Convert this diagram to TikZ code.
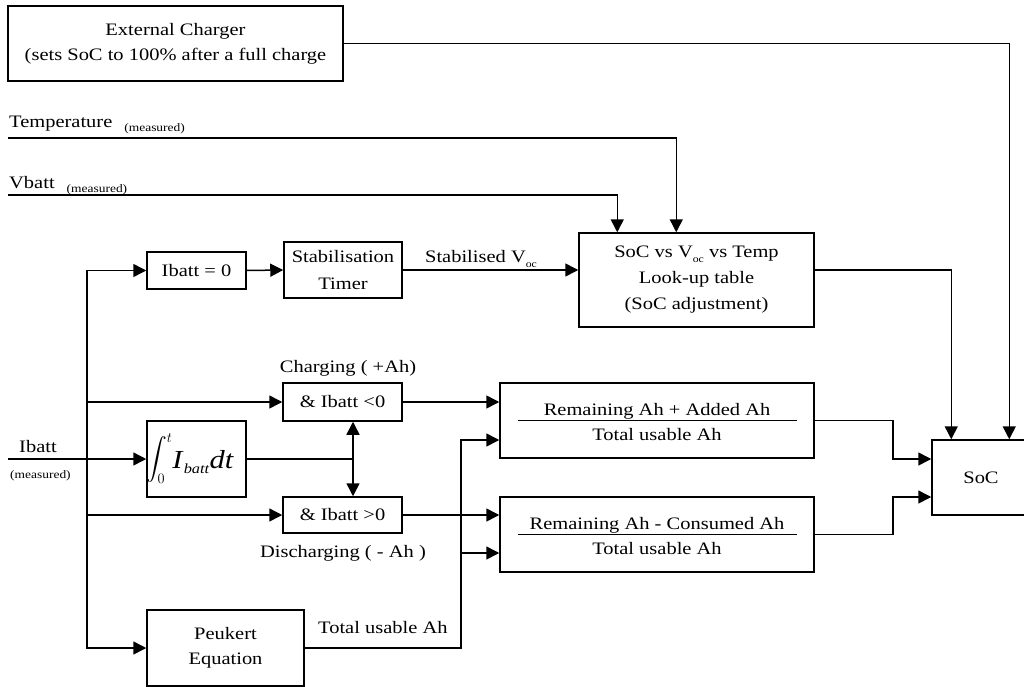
\documentclass[tikz,border=0pt]{standalone}
\usepackage{exscale}
\usepackage{fontspec}
\setmainfont[FakeStretch=1.17]{Liberation Serif}
\usetikzlibrary{arrows.meta,calc}
% small lowered annotation and the open-circuit subscript
\newcommand\msrd[1]{\raisebox{-4pt}{\fontsize{11.5}{13}\selectfont #1}}
\newcommand\vocsub{\raisebox{-5pt}{\fontsize{10}{10}\selectfont oc}}
\tikzset{
  blk/.style={draw, line width=1.5pt, inner sep=0pt, align=center},
  lnk/.style={line width=1.5pt},
  arr/.style={lnk, -{Triangle[length=13pt,width=13pt]}},
  arrboth/.style={lnk, {Triangle[length=13pt,width=13pt]}-{Triangle[length=13pt,width=13pt]}},
  lbl/.style={inner sep=0pt}
}
\begin{document}
\begin{tikzpicture}[x=1pt,y=-1pt,font=\fontsize{17.5}{25}\selectfont]
\useasboundingbox (0,0) rectangle (1024,687);
\clip (0,0) rectangle (1024,687);

% blocks
\node[blk, minimum width=335, minimum height=75] (chg) at (175.5,43.5)
  {External Charger\\(sets SoC to 100\% after a full charge};
\node[blk, minimum width=235, minimum height=94, font=\fontsize{17.5}{26}\selectfont] (lut) at (696.5,280)
  {SoC vs V\vocsub{} vs Temp\\Look-up table\\(SoC adjustment)};
\node[blk, minimum width=98, minimum height=75] (soc) at (981,477.5) {SoC};
\node[blk, minimum width=99, minimum height=37] (izero) at (196.5,270.5) {Ibatt = 0};
\node[blk, minimum width=118, minimum height=56, font=\fontsize{17.5}{27}\selectfont] (timer) at (343,270)
  {Stabilisation\\Timer};
\node[blk, minimum width=119, minimum height=38] (cpos) at (342.5,402) {\&~Ibatt <0};
\node[blk, minimum width=99, minimum height=76] (integ) at (196.5,459) {};
\node[blk, minimum width=119, minimum height=36] (cneg) at (342.5,515) {\&~Ibatt >0};
\node[blk, minimum width=157, minimum height=76] (peuk) at (225.5,648) {Peukert\\Equation};
\node[blk, minimum width=314, minimum height=75] (fup) at (657,420.5) {};
\node[blk, minimum width=314, minimum height=75] (fdn) at (657,534.5) {};

% integral of the battery current
\node[lbl, anchor=base, font=\fontsize{26}{26}\selectfont] (tint) at (190,468)
  {{\fontsize{20}{20}\selectfont\raisebox{3pt}{$\displaystyle\int_0^t$}}\textit{I}\raisebox{-5pt}{\fontsize{14}{14}\selectfont\textit{batt}}\textit{dt}};

% fraction contents
\draw[line width=1.3pt] ([xshift=19pt]fup.west) -- ([xshift=-18pt]fup.east);
\node[lbl, anchor=base] (fupn) at (657,415) {Remaining Ah + Added Ah};
\node[lbl, anchor=base] (fupd) at (657,440) {Total usable Ah};
\draw[line width=1.3pt] ([xshift=19pt]fdn.west) -- ([xshift=-18pt]fdn.east);
\node[lbl, anchor=base] (fdnn) at (657,529) {Remaining Ah - Consumed Ah};
\node[lbl, anchor=base] (fdnd) at (657,554) {Total usable Ah};

% input labels
\node[lbl, anchor=base west] (ttemp) at (9,128) {Temperature\hspace{12pt}\msrd{(measured)}};
\node[lbl, anchor=base west] (tvb) at (9,189) {Vbatt\hspace{12pt}\msrd{(measured)}};
\node[lbl, anchor=base west] (tib) at (19,452) {Ibatt};
\node[lbl, anchor=base west, font=\fontsize{11.5}{13}\selectfont] (tibm) at (10,478) {(measured)};

% connector labels
\node[lbl, anchor=base] (tsv) at (481,262) {Stabilised V\vocsub};
\node[lbl, anchor=base] (tchg) at (348,372) {Charging ( +Ah)};
\node[lbl, anchor=base] (tdis) at (343,557) {Discharging ( - Ah )};
\node[lbl, anchor=base west] (ttot) at (318,633) {Total usable Ah};

% free ends and junctions
\coordinate (tmpin) at (8,138);
\coordinate (vbin) at (8,195);
\coordinate (ibin) at (8,459);
\coordinate (bx) at (87,0);
\coordinate (dv) at (353,459);
\coordinate (pu) at (461,440);
\coordinate (pd) at (461,553);
\coordinate (ju) at (893,459);
\coordinate (jd) at (893,497);

% top inputs
\draw[arr] (chg.east) -| ([xshift=78pt]soc.north west);
\draw[arr] (tmpin) -| ([xshift=98pt]lut.north west);
\draw[arr] (vbin) -| ([xshift=39pt]lut.north west);
\draw[arr] ([yshift=10pt]lut.east) -| ([xshift=20pt]soc.north west);

% current branch
\draw[arr] (ibin) -- (integ.west);
\draw[arr] (bx |- cpos.west) |- (izero.west);
\draw[arr] (bx |- cpos.west) |- (peuk.west);
\draw[arr] (bx |- cpos.west) -- (cpos.west);
\draw[arr] (bx |- cneg.west) -- (cneg.west);
\draw[arr] (izero.east) -- (timer.west);
\draw[arr] (timer.east) -- (timer.east -| lut.west);
\draw[lnk] (integ.east) -- (dv);
\draw[arrboth] (dv |- cpos.south) -- (dv |- cneg.north);
\draw[arr] (cpos.east) -- (cpos.east -| fup.west);
\draw[arr] (cneg.east) -- (cneg.east -| fdn.west);
\draw[arr] (peuk.east) -| (pu) -- (pu -| fup.west);
\draw[arr] (pd) -- (pd -| fdn.west);

% results into SoC
\draw[arr] (fup.east) -| (ju) -- (ju -| soc.west);
\draw[arr] (fdn.east) -| (jd) -- (jd -| soc.west);
\end{tikzpicture}
\end{document}
